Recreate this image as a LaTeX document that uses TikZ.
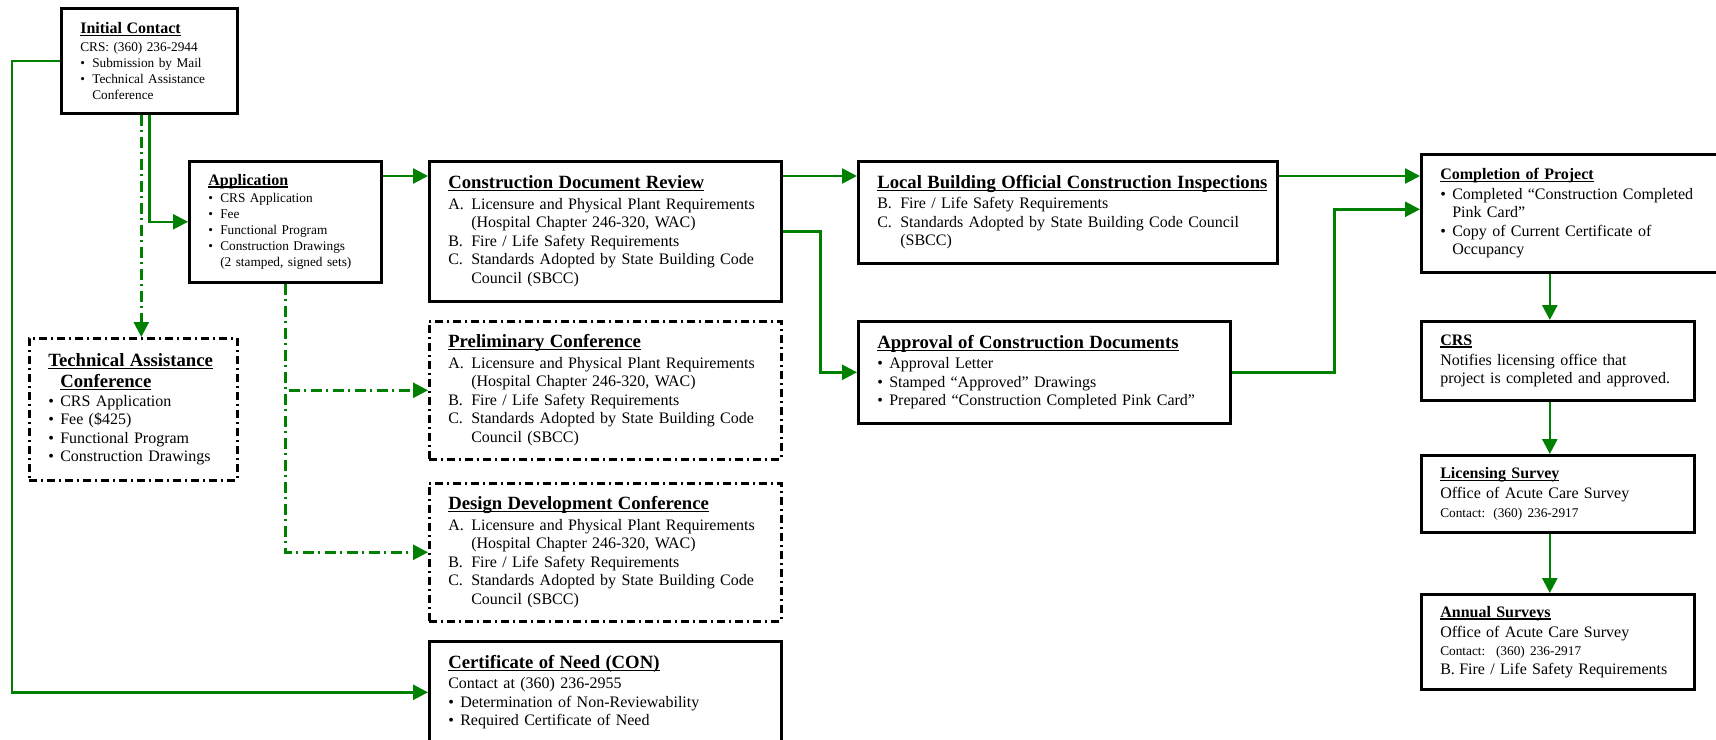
\documentclass[tikz,border=0pt]{standalone}
\usepackage{fontspec}
\setmainfont{Liberation Serif}
\usetikzlibrary{arrows.meta}

\definecolor{flowgreen}{RGB}{0,128,0}

\newsavebox{\ttlbox}
\newcommand{\ttlline}[1]{\sbox\ttlbox{#1}\rlap{\rule[-2.5pt]{\wd\ttlbox}{1.4pt}}\usebox\ttlbox}
\newcommand{\bodyfont}{\fontsize{16}{18.5}\selectfont}
\newcommand{\smallbody}{\fontsize{13.3}{16}\selectfont}
\newcommand{\bigtitle}[1]{{\fontsize{18.7}{21}\selectfont\bfseries\ttlline{#1}\par}\vspace{2pt}}
\newcommand{\smalltitle}[1]{{\fontsize{16}{18.5}\selectfont\bfseries\ttlline{#1}\par}\vspace{1.5pt}}
\newcommand{\dotitem}{\makebox[12pt][l]{\textbullet}}
\newcommand{\dotgap}{\hspace*{12pt}}
\newcommand{\letitem}[1]{\makebox[23pt][l]{#1}}
\newcommand{\letgap}{\hspace*{23pt}}
\newcommand{\reqlist}{\letitem{A.}Licensure and Physical Plant Requirements\\
  \letgap(Hospital Chapter 246-320, WAC)\\
  \letitem{B.}Fire / Life Safety Requirements\\
  \letitem{C.}Standards Adopted by State Building Code\\
  \letgap Council (SBCC)}

\tikzset{
  box/.style={draw, line width=2.6pt, rectangle, anchor=north west, align=left,
    inner xsep=19pt, inner ysep=0pt, font=\bodyfont},
  dashbox/.style={box, dash pattern=on 8pt off 4pt on 2pt off 4pt},
  link/.style={draw=flowgreen, line width=2.6pt, -{Triangle[length=15pt,width=15pt]}},
  dashlink/.style={link, dash pattern=on 11pt off 4.5pt on 2pt off 4.5pt}
}

\begin{document}
\begin{tikzpicture}[x=1pt, y=-1pt]
        \useasboundingbox (0,0) rectangle (1716,739);
        \clip (0,0) rectangle (1716,739);

        % Left column
        \node[box, minimum width=176pt, minimum height=105pt, text width=138pt, font=\smallbody] (init) at (60,7)
        {\smalltitle{Initial Contact}
         CRS: (360) 236-2944\\
         \dotitem Submission by Mail\\
         \dotitem Technical Assistance\\
         \dotgap Conference};
        \node[box, minimum width=192pt, minimum height=121pt, text width=154pt, font=\smallbody] (app) at (188,160)
        {\smalltitle{Application}
         \dotitem CRS Application\\
         \dotitem Fee\\
         \dotitem Functional Program\\
         \dotitem Construction Drawings\\
         \dotgap (2 stamped, signed sets)};
        \node[dashbox, minimum width=208pt, minimum height=142pt, text width=170pt] (tac) at (28,337)
        {{\fontsize{18.7}{21}\selectfont\bfseries\ttlline{Technical Assistance}\\
          \dotgap\ttlline{Conference}\par}
         \dotitem CRS Application\\
         \dotitem Fee (\$425)\\
         \dotitem Functional Program\\
         \dotitem Construction Drawings};

        % Middle column
        \node[box, minimum width=352pt, minimum height=140pt, text width=314pt] (cdr) at (428,160)
        {\bigtitle{Construction Document Review}\reqlist};
        \node[dashbox, minimum width=352pt, minimum height=138pt, text width=314pt] (prelim) at (428,320)
        {\bigtitle{Preliminary Conference}\reqlist};
        \node[dashbox, minimum width=352pt, minimum height=138pt, text width=314pt] (design) at (428,482)
        {\bigtitle{Design Development Conference}\reqlist};
        \node[box, minimum width=352pt, minimum height=102pt, text width=314pt] (con) at (428,640)
        {\bigtitle{Certificate of Need (CON)}
         Contact at (360) 236-2955\\
         \dotitem Determination of Non-Reviewability\\
         \dotitem Required Certificate of Need};

        \node[box, minimum width=419pt, minimum height=102pt, text width=381pt] (lbo) at (857,160)
        {\bigtitle{Local Building Official Construction Inspections}
         \letitem{B.}Fire / Life Safety Requirements\\
         \letitem{C.}Standards Adopted by State Building Code Council\\
         \letgap(SBCC)};
        \node[box, minimum width=372pt, minimum height=102pt, text width=334pt] (appr) at (857,320)
        {\bigtitle{Approval of Construction Documents}
         \dotitem Approval Letter\\
         \dotitem Stamped “Approved” Drawings\\
         \dotitem Prepared “Construction Completed Pink Card”};

        % Right column
        \node[box, minimum width=310pt, minimum height=118pt, text width=272pt] (comp) at (1420,153)
        {\smalltitle{Completion of Project}
         \dotitem Completed “Construction Completed\\
         \dotgap Pink Card”\\
         \dotitem Copy of Current Certificate of\\
         \dotgap Occupancy};
        \node[box, minimum width=273pt, minimum height=79pt, text width=235pt] (crs) at (1420,320)
        {\smalltitle{CRS}
         Notifies licensing office that\\
         project is completed and approved.};
        \node[box, minimum width=273pt, minimum height=77pt, text width=235pt] (lic) at (1420,454)
        {\smalltitle{Licensing Survey}
         Office of Acute Care Survey\\
         {\smallbody Contact: (360) 236-2917}};
        \node[box, minimum width=273pt, minimum height=95pt, text width=235pt] (annual) at (1420,593)
        {\smalltitle{Annual Surveys}
         Office of Acute Care Survey\\
         {\smallbody Contact:\ \ (360) 236-2917}\\
         \makebox[19pt][l]{B.}Fire / Life Safety Requirements};

        % Solid connections
        \draw[link] (init.west) -- ++(-48,0) |- (con.west);
        \draw[link] (init.south) |- (app.west);
        \draw[link] ([yshift=-16pt]app.north east) -- ([yshift=-16pt]cdr.north west);
        \draw[link] ([yshift=-16pt]cdr.north east) -- ([yshift=-16pt]lbo.north west);
        \draw[link] (cdr.east) -- ++(38,0) |- (appr.west);
        \draw[link] ([yshift=-16pt]lbo.north east) -- ([yshift=-16pt]lbo.north east -| comp.west);
        \draw[link] (appr.east) -- ++(103,0) |- ([yshift=4pt]comp.west);
        \draw[link] ([xshift=-8pt]crs.north |- comp.south) -- ([xshift=-8pt]crs.north);
        \draw[link] ([xshift=-8pt]crs.south) -- ([xshift=-8pt]lic.north);
        \draw[link] ([xshift=-8pt]lic.south) -- ([xshift=-8pt]annual.north);

        % Optional conferences
        \draw[dashlink] ([xshift=-8pt]init.south) -- ([xshift=-8pt]init.south |- tac.north);
        \draw[dashlink] (app.south) |- (prelim.west);
        \draw[dashlink] (app.south) |- (design.west);
\end{tikzpicture}
\end{document}
